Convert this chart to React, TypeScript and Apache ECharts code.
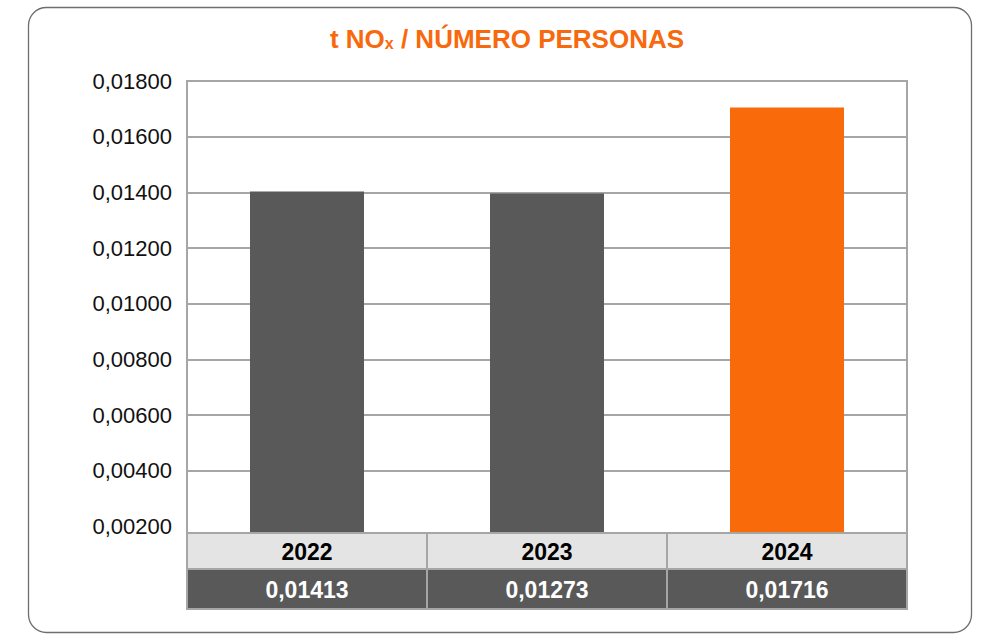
import React, { useEffect, useRef } from "react";
import * as echarts from "echarts";

const categories = ["2022", "2023", "2024"];
const barValues = [0.01403, 0.01396, 0.01705];
const tableValues = ["0,01413", "0,01273", "0,01716"];
const barColors = ["#595959", "#595959", "#F96A0A"];
const yMin = 0;
const yMax = 0.018;
const yInterval = 0.002;

const FONT = 'Arial, "Liberation Sans", sans-serif';
const ORANGE = "#F7690C";
const GRID_LEFT = 187;
const GRID_RIGHT_X = 907;
const GRID_TOP = 81;
const GRID_ZERO_Y = 582;
const TABLE_TOP = 533;
const ROW1_BOTTOM = 569;
const TABLE_BOTTOM = 609;

export default function App() {
  const ref = useRef<HTMLDivElement>(null);
  useEffect(() => {
    if (!ref.current) return;
    const chart = echarts.init(ref.current, null, { renderer: "svg" });
    const colW = (GRID_RIGHT_X - GRID_LEFT) / categories.length;
    const lineColor = "#a6a6a6";
    const graphics: any[] = [
      {
        type: "rect",
        z: 200,
        shape: { x: 28.5, y: 7.5, width: 943, height: 625, r: 18 },
        style: { fill: "none", stroke: "#6e6e6e", lineWidth: 1.3 },
      },
      {
        type: "rect",
        z: 100,
        shape: { x: GRID_LEFT, y: TABLE_TOP, width: GRID_RIGHT_X - GRID_LEFT, height: ROW1_BOTTOM - TABLE_TOP },
        style: { fill: "#e4e4e4" },
      },
      {
        type: "rect",
        z: 100,
        shape: { x: GRID_LEFT, y: ROW1_BOTTOM, width: GRID_RIGHT_X - GRID_LEFT, height: TABLE_BOTTOM - ROW1_BOTTOM },
        style: { fill: "#595959" },
      },
    ];
    [TABLE_TOP, ROW1_BOTTOM, TABLE_BOTTOM].forEach((y) => {
      graphics.push({
        type: "line",
        z: 101,
        shape: { x1: GRID_LEFT - 1, y1: y, x2: GRID_RIGHT_X + 1, y2: y },
        style: { stroke: lineColor, lineWidth: 2 },
      });
    });
    for (let i = 0; i <= categories.length; i++) {
      const x = GRID_LEFT + i * colW;
      graphics.push({
        type: "line",
        z: 101,
        shape: { x1: x, y1: TABLE_TOP, x2: x, y2: TABLE_BOTTOM },
        style: { stroke: lineColor, lineWidth: 2 },
      });
    }
    categories.forEach((c, i) => {
      const cx = GRID_LEFT + (i + 0.5) * colW;
      graphics.push({
        type: "text",
        z: 102,
        x: cx,
        y: (TABLE_TOP + ROW1_BOTTOM) / 2 + 1,
        style: {
          text: c,
          align: "center",
          verticalAlign: "middle",
          fill: "#000",
          font: `bold 23px ${FONT}`,
        },
      });
      graphics.push({
        type: "text",
        z: 102,
        x: cx,
        y: (ROW1_BOTTOM + TABLE_BOTTOM) / 2 + 1,
        style: {
          text: tableValues[i],
          align: "center",
          verticalAlign: "middle",
          fill: "#fff",
          font: `bold 23px ${FONT}`,
        },
      });
    });

    const nLines = Math.round((yMax - yMin) / yInterval) + 1;
    const splitColors = Array.from({ length: nLines }, (_, i) => (i < 2 ? "rgba(0,0,0,0)" : lineColor));

    chart.setOption({
      animation: false,
      title: {
        text: "{a|t NO}{b|x}{a| / NÚMERO PERSONAS}",
        left: 502,
        top: 21,
        textAlign: "center",
        textStyle: {
          rich: {
            a: { fontFamily: FONT, fontWeight: "bold", fontSize: 26, color: ORANGE },
            b: { fontFamily: FONT, fontWeight: "bold", fontSize: 16, color: ORANGE, padding: [9, 0, 0, 0] },
          },
        },
      },
      grid: {
        left: GRID_LEFT,
        right: 982 - GRID_RIGHT_X,
        top: GRID_TOP,
        bottom: 634 - GRID_ZERO_Y,
        show: true,
        borderColor: lineColor,
        borderWidth: 2,
        backgroundColor: "transparent",
      },
      xAxis: {
        type: "category",
        data: categories,
        axisLine: { show: false },
        axisTick: { show: false },
        axisLabel: { show: false },
      },
      yAxis: {
        type: "value",
        min: yMin,
        max: yMax,
        interval: yInterval,
        axisLine: { show: false },
        axisTick: { show: false },
        axisLabel: {
          margin: 15,
          color: "#111",
          fontFamily: FONT,
          fontSize: 22,
          padding: [0, 0, 4, 0],
          formatter: (v: number) => (v < yInterval / 2 ? "" : v.toFixed(5).replace(".", ",")),
        },
        splitLine: { show: true, lineStyle: { color: splitColors, width: 2 } },
      },
      series: [
        {
          type: "bar",
          data: barValues.map((v, i) => ({ value: v, itemStyle: { color: barColors[i] } })),
          barWidth: 114,
        },
      ],
      graphic: { elements: graphics },
    });
    return () => chart.dispose();
  }, []);
  return (
    <div
      ref={ref}
      style={{ position: "fixed", left: 0, top: 0, width: 982, height: 634, background: "#fff" }}
    />
  );
}
